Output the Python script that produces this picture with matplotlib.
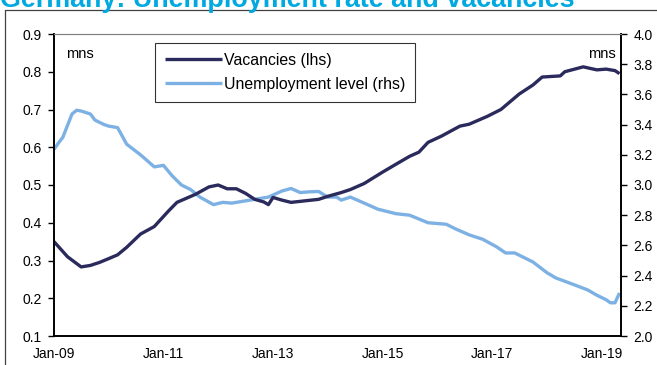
import pandas as pd
import matplotlib.pyplot as plt
import matplotlib.dates as mdates
from matplotlib.lines import Line2D

plt.rcParams['font.family'] = ['Liberation Sans', 'DejaVu Sans']

# data (months since Jan-2009, millions)
vac_months = [0, 3, 6, 8, 10, 12, 14, 16, 19, 22, 25, 27, 31, 34, 36, 38, 40, 42,
              44, 46, 47, 48, 50, 52, 55, 58, 60, 63, 65, 68, 72, 75, 78, 80, 82,
              85, 87, 89, 91, 95, 98, 102, 105, 107, 111, 112, 116, 119, 121, 123, 124]
vacancies = [0.35, 0.31, 0.283, 0.287, 0.295, 0.305, 0.315, 0.335, 0.37, 0.39, 0.43,
             0.454, 0.475, 0.495, 0.50, 0.49, 0.49, 0.478, 0.462, 0.455, 0.448, 0.467,
             0.46, 0.454, 0.458, 0.462, 0.47, 0.48, 0.488, 0.504, 0.534, 0.555, 0.576,
             0.587, 0.613, 0.63, 0.643, 0.656, 0.661, 0.682, 0.70, 0.741, 0.765, 0.786,
             0.789, 0.80, 0.813, 0.805, 0.807, 0.803, 0.795]

unemp_months = [0, 1, 2, 4, 5, 6, 8, 9, 11, 12, 14, 16, 19, 22, 24, 26, 28, 30, 32,
                35, 37, 39, 41, 43, 45, 47, 50, 52, 54, 56, 58, 60, 62, 63, 65, 68,
                71, 75, 78, 82, 86, 88, 91, 94, 97, 99, 101, 103, 105, 108, 110, 114,
                117, 119, 121, 122, 123, 124]
unemployment = [3.236, 3.28, 3.316, 3.47, 3.495, 3.49, 3.47, 3.43, 3.40, 3.39, 3.38,
                3.27, 3.20, 3.12, 3.13, 3.06, 3.00, 2.97, 2.92, 2.87, 2.885, 2.88, 2.89,
                2.90, 2.91, 2.92, 2.96, 2.977, 2.95, 2.955, 2.957, 2.92, 2.92, 2.90,
                2.92, 2.88, 2.84, 2.81, 2.80, 2.75, 2.74, 2.71, 2.67, 2.64, 2.59, 2.55,
                2.55, 2.52, 2.49, 2.42, 2.385, 2.34, 2.305, 2.27, 2.24, 2.22, 2.22, 2.285]

tick_years = [2009, 2011, 2013, 2015, 2017, 2019]

start = pd.Timestamp('2009-01-01')
vac_dates = [start + pd.DateOffset(months=m) for m in vac_months]
unemp_dates = [start + pd.DateOffset(months=m) for m in unemp_months]

dark = '#2b2a5c'
light = '#7db1e3'

fig = plt.figure(figsize=(6.57, 3.65), dpi=100)
ax = fig.add_axes([54 / 657, 1 - 336 / 365, (621 - 54) / 657, (336 - 34) / 365])
ax2 = ax.twinx()

l2, = ax2.plot(unemp_dates, unemployment, color=light, lw=2.4, solid_capstyle='butt')
l1, = ax.plot(vac_dates, vacancies, color=dark, lw=2.4, solid_capstyle='butt')
ax.set_zorder(ax2.get_zorder() + 1)
ax.patch.set_visible(False)

ax.set_ylim(0.1, 0.9)
ax.set_yticks([0.1, 0.2, 0.3, 0.4, 0.5, 0.6, 0.7, 0.8, 0.9])
ax2.set_ylim(2.0, 4.0)
ax2.set_yticks([2.0, 2.2, 2.4, 2.6, 2.8, 3.0, 3.2, 3.4, 3.6, 3.8, 4.0])
ax.yaxis.set_major_formatter(plt.FormatStrFormatter('%.1f'))
ax2.yaxis.set_major_formatter(plt.FormatStrFormatter('%.1f'))

ax.set_xlim(start, start + pd.DateOffset(months=124, days=10))
ax.set_xticks([pd.Timestamp(f'{y}-01-01') for y in tick_years])
ax.xaxis.set_major_formatter(mdates.DateFormatter('%b-%y'))

for a in (ax, ax2):
    a.tick_params(axis='y', length=4, width=1, pad=5, labelsize=10, color='black')
    a.tick_params(axis='x', length=0, pad=8, labelsize=10)
    for s in a.spines.values():
        s.set_linewidth(1.2)
        s.set_color('black')
    a.spines['top'].set_color('#808080')
    a.spines['top'].set_linewidth(0.8)

ax.text(0.022, 0.935, 'mns', transform=ax.transAxes, fontsize=10.5, va='center', ha='left')
ax.text(0.99, 0.935, 'mns', transform=ax.transAxes, fontsize=10.5, va='center', ha='right')

leg = ax.legend([l1, l2], ['Vacancies (lhs)', 'Unemployment level (rhs)'],
                loc='upper left', bbox_to_anchor=((155 - 54) / 567, 1 - 9 / 302),
                fontsize=11.4, frameon=True, fancybox=False, handlelength=3.6,
                handletextpad=0.15, borderpad=0.6, labelspacing=0.6,
                borderaxespad=0)
leg.get_frame().set_edgecolor('black')
leg.get_frame().set_linewidth(0.8)

fig.text(0.0, 1 - 7 / 365, 'Germany: Unemployment rate and vacancies', fontsize=19.4,
         fontweight='bold', color='#00a9e0', va='baseline', ha='left')

fig.add_artist(Line2D([5 / 657, 5 / 657, 1.0], [0.0, 1 - 10 / 365, 1 - 10 / 365],
                      transform=fig.transFigure, color='#404040', lw=0.9))

fig.savefig('out.png', dpi=100)
